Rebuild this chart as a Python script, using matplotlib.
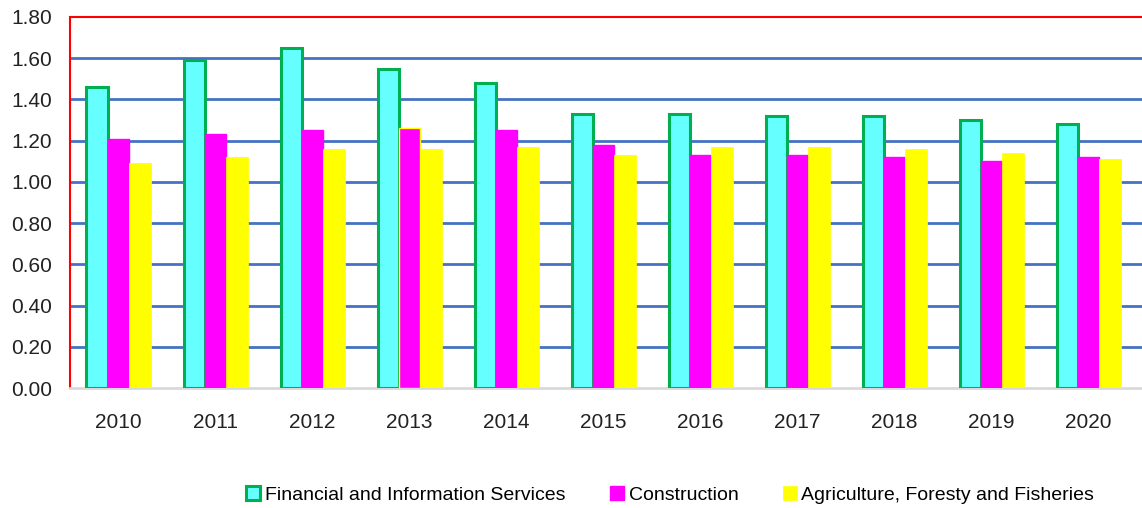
import numpy as np
from matplotlib import pyplot as plt

# data
years = ["2010", "2011", "2012", "2013", "2014", "2015", "2016", "2017", "2018", "2019", "2020"]
financial = [1.46, 1.59, 1.65, 1.55, 1.48, 1.33, 1.33, 1.32, 1.32, 1.30, 1.28]
construction = [1.21, 1.23, 1.25, 1.26, 1.25, 1.18, 1.13, 1.13, 1.12, 1.10, 1.12]
agriculture = [1.09, 1.12, 1.16, 1.16, 1.17, 1.13, 1.17, 1.17, 1.16, 1.14, 1.11]

plt.rcParams['font.family'] = ['Liberation Sans', 'DejaVu Sans']

fig = plt.figure(figsize=(11.42, 5.08), dpi=100)
ax = fig.add_axes([70/1142, 1 - 388/508, 1 - 70/1142, (388 - 17)/508])

x = np.arange(len(years))
w = 0.22

ax.bar(x - w, financial, w, color='#66FFFF', edgecolor='#00B050', linewidth=2.2,
       label='Financial and Information Services', zorder=3)
con_edges = ['#FF00FF'] * len(years)
con_edges[3] = '#FFFF00'
ax.bar(x, construction, w, color='#FF00FF', edgecolor=con_edges, linewidth=1,
       label='Construction', zorder=3)
ax.bar(x + w, agriculture, w, color='#FFFF00', edgecolor='#FFFF00', linewidth=0.5,
       label='Agriculture, Foresty and Fisheries', zorder=3)

ax.set_ylim(0, 1.8)
ax.set_yticks(np.arange(0, 1.81, 0.2))
ax.set_yticklabels(["%.2f" % v for v in np.arange(0, 1.81, 0.2)], fontsize=15, color='#222222')
ax.set_xlim(-0.5, len(years) - 0.45)
ax.set_xticks(x)
ax.set_xticklabels(years, fontsize=15, color='#222222')
ax.tick_params(axis='both', length=0)
ax.tick_params(axis='x', pad=18)
ax.tick_params(axis='y', pad=13)

# grid lines
for yv in np.arange(0.2, 1.7, 0.2):
    ax.axhline(yv, color='#4472C4', linewidth=2, zorder=1)

ax.spines['left'].set_color('red')
ax.spines['left'].set_linewidth(1.5)
ax.spines['top'].set_color('red')
ax.spines['top'].set_linewidth(1.5)
ax.spines['right'].set_visible(False)
ax.spines['bottom'].set_color('#D9D9D9')
ax.spines['bottom'].set_linewidth(2)

fig.legend(loc='center', bbox_to_anchor=(0.587, 0.025), ncol=3, frameon=False,
           fontsize=14, handlelength=0.7, handleheight=0.7, handletextpad=0.25,
           columnspacing=2.3)

plt.savefig('out.png', dpi=100)
